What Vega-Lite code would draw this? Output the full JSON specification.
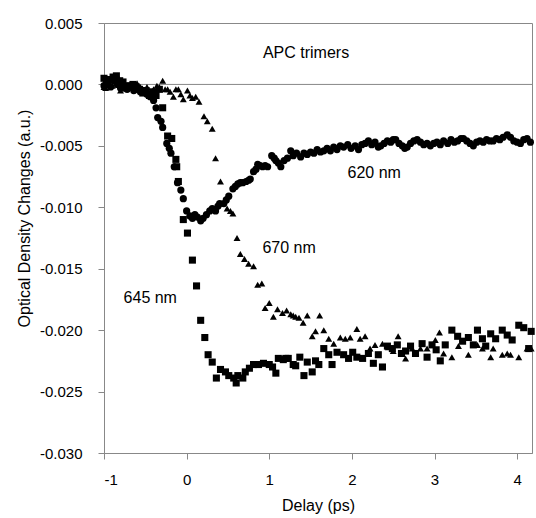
{
  "$schema": "https://vega.github.io/schema/vega-lite/v6.json",
  "autosize": {"type": "none"},
  "padding": {"left": 104, "top": 23, "right": 4, "bottom": 65},
  "width": 428,
  "height": 430,
  "background": "white",
  "config": {
    "view": {"stroke": "#888888", "strokeWidth": 1},
    "font": "Liberation Sans",
    "axis": {
      "grid": false,
      "domainColor": "#888888",
      "tickColor": "#888888",
      "labelColor": "black",
      "titleColor": "black",
      "labelFont": "Liberation Sans",
      "titleFont": "Liberation Sans",
      "labelFontSize": 15,
      "titleFontSize": 16,
      "titleFontWeight": "normal",
      "tickSize": 6
    }
  },
  "datasets": {
    "pts": [
      {"s":"620 nm","x":-1.00,"y":-0.0001},{"s":"620 nm","x":-0.96,"y":0.0001},{"s":"620 nm","x":-0.92,"y":-0.0002},{"s":"620 nm","x":-0.88,"y":0.0003},{"s":"620 nm","x":-0.84,"y":0.0000},{"s":"620 nm","x":-0.80,"y":-0.0003},{"s":"620 nm","x":-0.76,"y":-0.0001},{"s":"620 nm","x":-0.72,"y":-0.0004},{"s":"620 nm","x":-0.68,"y":-0.0002},{"s":"620 nm","x":-0.64,"y":-0.0005},{"s":"620 nm","x":-0.60,"y":-0.0003},{"s":"620 nm","x":-0.56,"y":-0.0006},{"s":"620 nm","x":-0.52,"y":-0.0005},{"s":"620 nm","x":-0.48,"y":-0.0008},{"s":"620 nm","x":-0.44,"y":-0.0010},{"s":"620 nm","x":-0.40,"y":-0.0013},
      {"s":"620 nm","x":-0.37,"y":-0.0019},{"s":"620 nm","x":-0.35,"y":-0.0027},{"s":"620 nm","x":-0.31,"y":-0.0030},{"s":"620 nm","x":-0.29,"y":-0.0035},{"s":"620 nm","x":-0.24,"y":-0.0048},{"s":"620 nm","x":-0.21,"y":-0.0052},{"s":"620 nm","x":-0.19,"y":-0.0056},{"s":"620 nm","x":-0.15,"y":-0.0067},{"s":"620 nm","x":-0.11,"y":-0.0080},{"s":"620 nm","x":-0.07,"y":-0.0086},{"s":"620 nm","x":-0.04,"y":-0.0093},{"s":"620 nm","x":0.00,"y":-0.0103},{"s":"620 nm","x":0.04,"y":-0.0107},{"s":"620 nm","x":0.07,"y":-0.0109},{"s":"620 nm","x":0.10,"y":-0.0106},{"s":"620 nm","x":0.13,"y":-0.0108},{"s":"620 nm","x":0.17,"y":-0.0111},{"s":"620 nm","x":0.20,"y":-0.0109},{"s":"620 nm","x":0.24,"y":-0.0106},{"s":"620 nm","x":0.28,"y":-0.0103},{"s":"620 nm","x":0.31,"y":-0.0101},{"s":"620 nm","x":0.35,"y":-0.0103},{"s":"620 nm","x":0.38,"y":-0.0099},{"s":"620 nm","x":0.40,"y":-0.0097},{"s":"620 nm","x":0.45,"y":-0.0097},{"s":"620 nm","x":0.48,"y":-0.0094},{"s":"620 nm","x":0.51,"y":-0.0091},{"s":"620 nm","x":0.56,"y":-0.0085},{"s":"620 nm","x":0.59,"y":-0.0083},{"s":"620 nm","x":0.62,"y":-0.0081},{"s":"620 nm","x":0.65,"y":-0.0080},{"s":"620 nm","x":0.68,"y":-0.0080},{"s":"620 nm","x":0.72,"y":-0.0079},{"s":"620 nm","x":0.75,"y":-0.0078},{"s":"620 nm","x":0.77,"y":-0.0077},{"s":"620 nm","x":0.81,"y":-0.0071},{"s":"620 nm","x":0.84,"y":-0.0069},{"s":"620 nm","x":0.86,"y":-0.0065},{"s":"620 nm","x":0.89,"y":-0.0066},{"s":"620 nm","x":0.92,"y":-0.0067},{"s":"620 nm","x":0.95,"y":-0.0066},{"s":"620 nm","x":0.98,"y":-0.0067},{"s":"620 nm","x":1.03,"y":-0.0058},{"s":"620 nm","x":1.06,"y":-0.0060},{"s":"620 nm","x":1.08,"y":-0.0062},{"s":"620 nm","x":1.11,"y":-0.0064},{"s":"620 nm","x":1.14,"y":-0.0067},{"s":"620 nm","x":1.18,"y":-0.0062},{"s":"620 nm","x":1.22,"y":-0.0060},{"s":"620 nm","x":1.26,"y":-0.0054},{"s":"620 nm","x":1.29,"y":-0.0058},{"s":"620 nm","x":1.33,"y":-0.0056},{"s":"620 nm","x":1.38,"y":-0.0059},{"s":"620 nm","x":1.42,"y":-0.0056},{"s":"620 nm","x":1.46,"y":-0.0057},{"s":"620 nm","x":1.50,"y":-0.0055},{"s":"620 nm","x":1.54,"y":-0.0056},{"s":"620 nm","x":1.58,"y":-0.0053},{"s":"620 nm","x":1.62,"y":-0.0055},{"s":"620 nm","x":1.66,"y":-0.0054},{"s":"620 nm","x":1.70,"y":-0.0052},{"s":"620 nm","x":1.74,"y":-0.0054},{"s":"620 nm","x":1.78,"y":-0.0051},{"s":"620 nm","x":1.82,"y":-0.0053},{"s":"620 nm","x":1.86,"y":-0.0050},{"s":"620 nm","x":1.90,"y":-0.0051},{"s":"620 nm","x":1.95,"y":-0.0049},{"s":"620 nm","x":1.99,"y":-0.0052},{"s":"620 nm","x":2.04,"y":-0.0050},{"s":"620 nm","x":2.08,"y":-0.0053},{"s":"620 nm","x":2.12,"y":-0.0049},{"s":"620 nm","x":2.16,"y":-0.0048},{"s":"620 nm","x":2.20,"y":-0.0046},{"s":"620 nm","x":2.24,"y":-0.0049},{"s":"620 nm","x":2.28,"y":-0.0047},{"s":"620 nm","x":2.32,"y":-0.0051},{"s":"620 nm","x":2.35,"y":-0.0050},{"s":"620 nm","x":2.39,"y":-0.0048},{"s":"620 nm","x":2.43,"y":-0.0046},{"s":"620 nm","x":2.47,"y":-0.0047},{"s":"620 nm","x":2.50,"y":-0.0045},{"s":"620 nm","x":2.53,"y":-0.0045},{"s":"620 nm","x":2.57,"y":-0.0048},{"s":"620 nm","x":2.61,"y":-0.0050},{"s":"620 nm","x":2.64,"y":-0.0052},{"s":"620 nm","x":2.67,"y":-0.0051},{"s":"620 nm","x":2.71,"y":-0.0048},{"s":"620 nm","x":2.75,"y":-0.0046},{"s":"620 nm","x":2.79,"y":-0.0045},{"s":"620 nm","x":2.83,"y":-0.0047},{"s":"620 nm","x":2.87,"y":-0.0049},{"s":"620 nm","x":2.91,"y":-0.0048},{"s":"620 nm","x":2.95,"y":-0.0050},{"s":"620 nm","x":2.99,"y":-0.0048},{"s":"620 nm","x":3.03,"y":-0.0047},{"s":"620 nm","x":3.07,"y":-0.0049},{"s":"620 nm","x":3.11,"y":-0.0046},{"s":"620 nm","x":3.16,"y":-0.0048},{"s":"620 nm","x":3.20,"y":-0.0045},{"s":"620 nm","x":3.24,"y":-0.0047},{"s":"620 nm","x":3.28,"y":-0.0046},{"s":"620 nm","x":3.32,"y":-0.0044},{"s":"620 nm","x":3.35,"y":-0.0044},{"s":"620 nm","x":3.39,"y":-0.0046},{"s":"620 nm","x":3.43,"y":-0.0048},{"s":"620 nm","x":3.47,"y":-0.0050},{"s":"620 nm","x":3.51,"y":-0.0047},{"s":"620 nm","x":3.55,"y":-0.0046},{"s":"620 nm","x":3.59,"y":-0.0047},{"s":"620 nm","x":3.63,"y":-0.0045},{"s":"620 nm","x":3.67,"y":-0.0046},{"s":"620 nm","x":3.71,"y":-0.0046},{"s":"620 nm","x":3.75,"y":-0.0044},{"s":"620 nm","x":3.79,"y":-0.0045},{"s":"620 nm","x":3.83,"y":-0.0043},{"s":"620 nm","x":3.88,"y":-0.0041},{"s":"620 nm","x":3.92,"y":-0.0043},{"s":"620 nm","x":3.96,"y":-0.0046},{"s":"620 nm","x":4.00,"y":-0.0047},{"s":"620 nm","x":4.04,"y":-0.0048},{"s":"620 nm","x":4.08,"y":-0.0045},{"s":"620 nm","x":4.12,"y":-0.0044},{"s":"620 nm","x":4.16,"y":-0.0047},

      {"s":"645 nm","x":-1.00,"y":0.0005},{"s":"645 nm","x":-0.97,"y":0.0000},{"s":"645 nm","x":-0.93,"y":0.0004},{"s":"645 nm","x":-0.89,"y":0.0006},{"s":"645 nm","x":-0.85,"y":0.0007},{"s":"645 nm","x":-0.81,"y":0.0003},{"s":"645 nm","x":-0.77,"y":0.0002},{"s":"645 nm","x":-0.73,"y":-0.0003},{"s":"645 nm","x":-0.69,"y":-0.0001},{"s":"645 nm","x":-0.65,"y":0.0000},{"s":"645 nm","x":-0.61,"y":-0.0002},{"s":"645 nm","x":-0.57,"y":-0.0004},{"s":"645 nm","x":-0.53,"y":-0.0007},{"s":"645 nm","x":-0.49,"y":-0.0005},{"s":"645 nm","x":-0.45,"y":-0.0009},{"s":"645 nm","x":-0.41,"y":-0.0006},{"s":"645 nm","x":-0.37,"y":-0.0009},{"s":"645 nm","x":-0.33,"y":-0.0004},
      {"s":"645 nm","x":-0.29,"y":-0.0019},{"s":"645 nm","x":-0.23,"y":-0.0042},{"s":"645 nm","x":-0.18,"y":-0.0044},{"s":"645 nm","x":-0.13,"y":-0.0061},{"s":"645 nm","x":-0.12,"y":-0.0067},{"s":"645 nm","x":-0.10,"y":-0.0079},{"s":"645 nm","x":-0.04,"y":-0.0110},{"s":"645 nm","x":0.01,"y":-0.0121},{"s":"645 nm","x":0.07,"y":-0.0143},{"s":"645 nm","x":0.12,"y":-0.0164},{"s":"645 nm","x":0.17,"y":-0.0192},{"s":"645 nm","x":0.22,"y":-0.0206},{"s":"645 nm","x":0.26,"y":-0.0220},{"s":"645 nm","x":0.31,"y":-0.0226},{"s":"645 nm","x":0.36,"y":-0.0239},{"s":"645 nm","x":0.41,"y":-0.0232},{"s":"645 nm","x":0.47,"y":-0.0234},{"s":"645 nm","x":0.51,"y":-0.0237},{"s":"645 nm","x":0.57,"y":-0.0239},{"s":"645 nm","x":0.60,"y":-0.0243},{"s":"645 nm","x":0.62,"y":-0.0237},{"s":"645 nm","x":0.68,"y":-0.0239},{"s":"645 nm","x":0.71,"y":-0.0234},{"s":"645 nm","x":0.76,"y":-0.0231},{"s":"645 nm","x":0.81,"y":-0.0228},{"s":"645 nm","x":0.87,"y":-0.0228},{"s":"645 nm","x":0.93,"y":-0.0227},{"s":"645 nm","x":1.00,"y":-0.0228},{"s":"645 nm","x":1.04,"y":-0.0230},{"s":"645 nm","x":1.08,"y":-0.0235},{"s":"645 nm","x":1.11,"y":-0.0223},{"s":"645 nm","x":1.17,"y":-0.0224},{"s":"645 nm","x":1.20,"y":-0.0223},{"s":"645 nm","x":1.23,"y":-0.0223},{"s":"645 nm","x":1.29,"y":-0.0228},{"s":"645 nm","x":1.32,"y":-0.0229},{"s":"645 nm","x":1.37,"y":-0.0222},{"s":"645 nm","x":1.42,"y":-0.0237},{"s":"645 nm","x":1.46,"y":-0.0226},{"s":"645 nm","x":1.52,"y":-0.0234},{"s":"645 nm","x":1.56,"y":-0.0225},{"s":"645 nm","x":1.60,"y":-0.0228},{"s":"645 nm","x":1.66,"y":-0.0215},{"s":"645 nm","x":1.72,"y":-0.0220},{"s":"645 nm","x":1.76,"y":-0.0228},{"s":"645 nm","x":1.82,"y":-0.0218},{"s":"645 nm","x":1.90,"y":-0.0220},{"s":"645 nm","x":1.96,"y":-0.0223},{"s":"645 nm","x":2.01,"y":-0.0218},{"s":"645 nm","x":2.06,"y":-0.0222},{"s":"645 nm","x":2.13,"y":-0.0223},{"s":"645 nm","x":2.20,"y":-0.0219},{"s":"645 nm","x":2.26,"y":-0.0227},{"s":"645 nm","x":2.32,"y":-0.0220},{"s":"645 nm","x":2.37,"y":-0.0230},{"s":"645 nm","x":2.43,"y":-0.0213},{"s":"645 nm","x":2.49,"y":-0.0215},{"s":"645 nm","x":2.55,"y":-0.0212},{"s":"645 nm","x":2.60,"y":-0.0219},{"s":"645 nm","x":2.65,"y":-0.0217},{"s":"645 nm","x":2.71,"y":-0.0213},{"s":"645 nm","x":2.77,"y":-0.0219},{"s":"645 nm","x":2.85,"y":-0.0211},{"s":"645 nm","x":2.91,"y":-0.0222},{"s":"645 nm","x":2.97,"y":-0.0212},{"s":"645 nm","x":3.02,"y":-0.0216},{"s":"645 nm","x":3.07,"y":-0.0225},{"s":"645 nm","x":3.13,"y":-0.0212},{"s":"645 nm","x":3.21,"y":-0.0200},{"s":"645 nm","x":3.28,"y":-0.0205},{"s":"645 nm","x":3.34,"y":-0.0209},{"s":"645 nm","x":3.41,"y":-0.0206},{"s":"645 nm","x":3.47,"y":-0.0212},{"s":"645 nm","x":3.52,"y":-0.0200},{"s":"645 nm","x":3.58,"y":-0.0207},{"s":"645 nm","x":3.62,"y":-0.0213},{"s":"645 nm","x":3.68,"y":-0.0203},{"s":"645 nm","x":3.74,"y":-0.0207},{"s":"645 nm","x":3.82,"y":-0.0200},{"s":"645 nm","x":3.88,"y":-0.0204},{"s":"645 nm","x":3.94,"y":-0.0208},{"s":"645 nm","x":4.02,"y":-0.0196},{"s":"645 nm","x":4.08,"y":-0.0198},{"s":"645 nm","x":4.14,"y":-0.0215},{"s":"645 nm","x":4.17,"y":-0.0201},

      {"s":"670 nm","x":-1.00,"y":-0.0002},{"s":"670 nm","x":-0.98,"y":-0.0003},{"s":"670 nm","x":-0.94,"y":0.0002},{"s":"670 nm","x":-0.90,"y":-0.0001},{"s":"670 nm","x":-0.86,"y":0.0004},{"s":"670 nm","x":-0.84,"y":0.0007},{"s":"670 nm","x":-0.80,"y":-0.0005},{"s":"670 nm","x":-0.76,"y":0.0002},{"s":"670 nm","x":-0.72,"y":-0.0001},{"s":"670 nm","x":-0.68,"y":0.0000},{"s":"670 nm","x":-0.64,"y":-0.0003},{"s":"670 nm","x":-0.60,"y":0.0001},{"s":"670 nm","x":-0.56,"y":-0.0002},{"s":"670 nm","x":-0.52,"y":-0.0005},{"s":"670 nm","x":-0.48,"y":-0.0002},{"s":"670 nm","x":-0.44,"y":-0.0006},{"s":"670 nm","x":-0.40,"y":-0.0004},{"s":"670 nm","x":-0.36,"y":-0.0001},{"s":"670 nm","x":-0.33,"y":-0.0002},{"s":"670 nm","x":-0.29,"y":0.0003},{"s":"670 nm","x":-0.26,"y":-0.0004},{"s":"670 nm","x":-0.23,"y":-0.0004},{"s":"670 nm","x":-0.20,"y":-0.0006},{"s":"670 nm","x":-0.16,"y":-0.0010},{"s":"670 nm","x":-0.13,"y":-0.0004},{"s":"670 nm","x":-0.10,"y":-0.0004},{"s":"670 nm","x":-0.07,"y":-0.0008},{"s":"670 nm","x":-0.04,"y":-0.0012},{"s":"670 nm","x":0.01,"y":-0.0005},{"s":"670 nm","x":0.04,"y":-0.0009},{"s":"670 nm","x":0.07,"y":-0.0011},{"s":"670 nm","x":0.11,"y":-0.0010},{"s":"670 nm","x":0.15,"y":-0.0014},{"s":"670 nm","x":0.21,"y":-0.0026},{"s":"670 nm","x":0.25,"y":-0.0030},{"s":"670 nm","x":0.31,"y":-0.0036},{"s":"670 nm","x":0.35,"y":-0.0060},{"s":"670 nm","x":0.41,"y":-0.0079},{"s":"670 nm","x":0.49,"y":-0.0101},{"s":"670 nm","x":0.53,"y":-0.0103},{"s":"670 nm","x":0.56,"y":-0.0105},{"s":"670 nm","x":0.61,"y":-0.0125},{"s":"670 nm","x":0.65,"y":-0.0138},{"s":"670 nm","x":0.70,"y":-0.0142},{"s":"670 nm","x":0.75,"y":-0.0146},{"s":"670 nm","x":0.81,"y":-0.0148},{"s":"670 nm","x":0.86,"y":-0.0163},{"s":"670 nm","x":0.91,"y":-0.0162},{"s":"670 nm","x":0.95,"y":-0.0182},{"s":"670 nm","x":1.00,"y":-0.0178},{"s":"670 nm","x":1.05,"y":-0.0189},{"s":"670 nm","x":1.10,"y":-0.0183},{"s":"670 nm","x":1.16,"y":-0.0186},{"s":"670 nm","x":1.21,"y":-0.0184},{"s":"670 nm","x":1.26,"y":-0.0187},{"s":"670 nm","x":1.29,"y":-0.0188},{"s":"670 nm","x":1.32,"y":-0.0189},{"s":"670 nm","x":1.36,"y":-0.0190},{"s":"670 nm","x":1.41,"y":-0.0194},{"s":"670 nm","x":1.46,"y":-0.0188},{"s":"670 nm","x":1.52,"y":-0.0205},{"s":"670 nm","x":1.56,"y":-0.0201},{"s":"670 nm","x":1.61,"y":-0.0188},{"s":"670 nm","x":1.66,"y":-0.0200},{"s":"670 nm","x":1.72,"y":-0.0207},{"s":"670 nm","x":1.78,"y":-0.0211},{"s":"670 nm","x":1.86,"y":-0.0206},{"s":"670 nm","x":1.92,"y":-0.0207},{"s":"670 nm","x":1.98,"y":-0.0206},{"s":"670 nm","x":2.06,"y":-0.0199},{"s":"670 nm","x":2.10,"y":-0.0207},{"s":"670 nm","x":2.16,"y":-0.0205},{"s":"670 nm","x":2.22,"y":-0.0215},{"s":"670 nm","x":2.28,"y":-0.0212},{"s":"670 nm","x":2.37,"y":-0.0211},{"s":"670 nm","x":2.44,"y":-0.0214},{"s":"670 nm","x":2.50,"y":-0.0217},{"s":"670 nm","x":2.56,"y":-0.0205},{"s":"670 nm","x":2.65,"y":-0.0223},{"s":"670 nm","x":2.73,"y":-0.0215},{"s":"670 nm","x":2.83,"y":-0.0215},{"s":"670 nm","x":2.91,"y":-0.0215},{"s":"670 nm","x":3.01,"y":-0.0208},{"s":"670 nm","x":3.06,"y":-0.0202},{"s":"670 nm","x":3.11,"y":-0.0219},{"s":"670 nm","x":3.21,"y":-0.0222},{"s":"670 nm","x":3.29,"y":-0.0213},{"s":"670 nm","x":3.41,"y":-0.0220},{"s":"670 nm","x":3.52,"y":-0.0212},{"s":"670 nm","x":3.58,"y":-0.0215},{"s":"670 nm","x":3.68,"y":-0.0222},{"s":"670 nm","x":3.71,"y":-0.0215},{"s":"670 nm","x":3.82,"y":-0.0220},{"s":"670 nm","x":3.88,"y":-0.0219},{"s":"670 nm","x":3.92,"y":-0.0220},{"s":"670 nm","x":4.02,"y":-0.0222},{"s":"670 nm","x":4.12,"y":-0.0215},{"s":"670 nm","x":4.17,"y":-0.0215}
    ],
    "labels": [
      {"t":"APC trimers","x":1.445,"y":0.00257},
      {"t":"620 nm","x":2.27,"y":-0.0072},
      {"t":"670 nm","x":1.24,"y":-0.0133},
      {"t":"645 nm","x":-0.44,"y":-0.01736}
    ],
    "zero": [{"y":0}]
  },
  "layer": [
    {
      "data": {"name": "zero"},
      "mark": {"type": "rule", "color": "#888888", "strokeWidth": 1},
      "encoding": {"y": {"field": "y", "type": "quantitative", "scale": {"domain": [-0.03, 0.005], "nice": false}}}
    },
    {
      "data": {"name": "pts"},
      "mark": {"type": "point", "filled": true, "color": "black", "opacity": 1},
      "encoding": {
        "x": {"field": "x", "type": "quantitative", "title": "Delay (ps)",
          "scale": {"domain": [-1, 4.18], "nice": false, "zero": false},
          "axis": {"values": [-1, 0, 1, 2, 3, 4], "format": "d", "labelPadding": 13, "titleY": 52, "titleBaseline": "middle", "labelExpr": "replace(datum.label, '\u2212', '-')"}},
        "y": {"field": "y", "type": "quantitative", "title": "Optical Density Changes (a.u.)",
          "scale": {"domain": [-0.03, 0.005], "nice": false, "zero": false},
          "axis": {"values": [-0.03, -0.025, -0.02, -0.015, -0.01, -0.005, 0, 0.005], "format": ".3f", "labelPadding": 16, "titleX": -80, "titleY": 195, "titleBaseline": "middle", "labelExpr": "replace(datum.label, '\u2212', '-')"}},
        "shape": {"field": "s", "type": "nominal", "legend": null,
          "scale": {"domain": ["620 nm", "645 nm", "670 nm"], "range": ["circle", "square", "triangle-up"]}},
        "size": {"field": "s", "type": "nominal", "legend": null,
          "scale": {"domain": ["620 nm", "645 nm", "670 nm"], "range": [52, 48, 70]}}
      }
    },
    {
      "data": {"name": "labels"},
      "mark": {"type": "text", "font": "Liberation Sans", "fontSize": 16, "color": "black", "align": "center", "baseline": "middle"},
      "encoding": {
        "x": {"field": "x", "type": "quantitative"},
        "y": {"field": "y", "type": "quantitative"},
        "text": {"field": "t"}
      }
    }
  ]
}
